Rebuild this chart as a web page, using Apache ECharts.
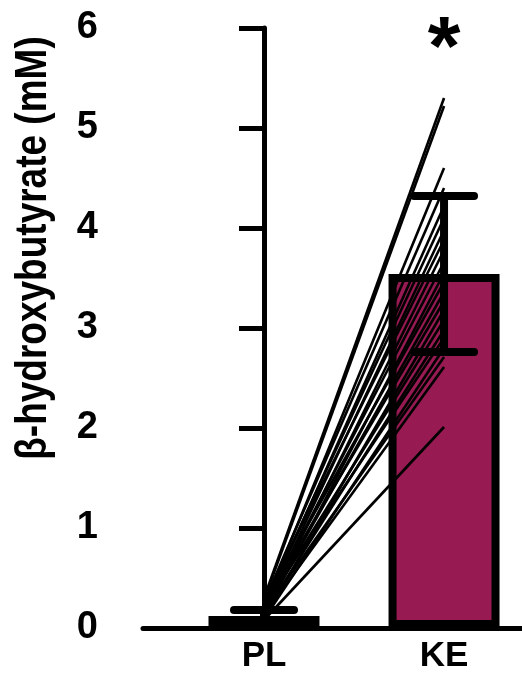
<!DOCTYPE html>
<html>
<head>
<meta charset="utf-8">
<script src="https://cdn.jsdelivr.net/npm/echarts@6/dist/echarts.min.js"></script>
<style>
  html, body { margin: 0; padding: 0; background: #ffffff; }
  #chart { width: 522px; height: 682px; }
</style>
</head>
<body>
<div id="chart"></div>
<script>
// Groups and summary values (mean, error) for each condition
const groups = ['PL', 'KE'];
const groupMeans = [0.12, 3.54];
const groupErrors = [0.06, 0.78];

// Paired individual measurements (same subject, same index)
const plValues = [0.30, 0.28, 0.22, 0.26, 0.20, 0.24, 0.18, 0.27, 0.15, 0.21, 0.12, 0.25, 0.17, 0.23, 0.10, 0.19, 0.14, 0.22, 0.09, 0.16, 0.13, 0.08];
const keValues = [5.30, 5.22, 4.60, 4.40, 4.22, 4.10, 3.98, 3.88, 3.78, 3.66, 3.55, 3.46, 3.36, 3.27, 3.18, 3.08, 2.98, 2.90, 2.80, 2.71, 2.61, 2.01];

// Value axis ticks
const yTicks = [0, 1, 2, 3, 4, 5, 6];
const significanceMark = '*';
const yTitle = 'β-hydroxybutyrate (mM)';

const FONT = '"Liberation Sans", Arial, Helvetica, sans-serif';
const chart = echarts.init(document.getElementById('chart'), null, { renderer: 'canvas' });

// one line per subject joining PL to KE
const pairSeries = plValues.map((pl, i) => ({
  type: 'line',
  data: [[0, pl], [1, keValues[i]]],
  symbol: 'none',
  silent: true,
  z: 3,
  lineStyle: { color: '#000000', width: 2.6 },
  animation: false
}));

const option = {
  animation: false,
  backgroundColor: '#ffffff',
  grid: { left: 143, right: 0, top: 28, bottom: 54, containLabel: false, outerBoundsMode: 'none' },
  xAxis: {
    type: 'value',
    min: -0.672,
    max: 1.433,
    axisLine: { show: true, onZero: false, lineStyle: { color: '#000000', width: 5 } },
    axisTick: { show: false },
    splitLine: { show: false },
    axisLabel: {
      customValues: [0, 1],
      formatter: v => groups[Math.round(v)] || '',
      color: '#000000',
      fontFamily: FONT,
      fontWeight: 'bold',
      fontSize: 35,
      margin: 11
    }
  },
  yAxis: {
    type: 'value',
    min: yTicks[0],
    max: yTicks[yTicks.length - 1],
    interval: 1,
    axisLine: { show: true, lineStyle: { color: '#000000', width: 5 } },
    axisTick: { show: true, length: 25, lineStyle: { color: '#000000', width: 5 } },
    splitLine: { show: false },
    axisLabel: {
      color: '#000000',
      fontFamily: FONT,
      fontWeight: 'bold',
      fontSize: 38,
      margin: 45
    }
  },
  series: [
    {
      type: 'bar',
      barWidth: 111,
      z: 2,
      silent: true,
      data: [
        { value: [0, groupMeans[0]], itemStyle: { color: '#ffffff', borderColor: '#000000', borderWidth: 8 } },
        { value: [1, groupMeans[1]], itemStyle: { color: '#971a53', borderColor: '#000000', borderWidth: 8 } }
      ]
    },
    ...pairSeries,
    {
      type: 'custom',
      z: 5,
      silent: true,
      data: groups.map((g, i) => [i, groupMeans[i], groupErrors[i]]),
      renderItem(params, api) {
        const x = api.value(0), m = api.value(1), e = api.value(2);
        const top = api.coord([x, m + e]);
        const bot = api.coord([x, m - e]);
        const half = 30;
        const st = { stroke: '#000000', lineWidth: 8, lineCap: 'round' };
        return {
          type: 'group',
          children: [
            { type: 'line', shape: { x1: top[0], y1: top[1], x2: bot[0], y2: bot[1] }, style: { stroke: '#000000', lineWidth: 8 } },
            { type: 'line', shape: { x1: top[0] - half, y1: top[1], x2: top[0] + half, y2: top[1] }, style: st },
            { type: 'line', shape: { x1: bot[0] - half, y1: bot[1], x2: bot[0] + half, y2: bot[1] }, style: st }
          ]
        };
      }
    }
  ]
};

chart.setOption(option);

// axis title and significance marker above the KE bar
const starPos = chart.convertToPixel({ xAxisIndex: 0, yAxisIndex: 0 }, [1, 5.76]);
chart.setOption({
  graphic: [
    {
      type: 'text',
      x: 34,
      y: 248,
      rotation: Math.PI / 2,
      scaleY: 1.22,
      style: {
        text: yTitle,
        fill: '#000000',
        font: 'bold 37px ' + FONT,
        align: 'center',
        verticalAlign: 'middle'
      }
    },
    {
      type: 'text',
      x: starPos[0],
      y: starPos[1],
      style: {
        text: significanceMark,
        fill: '#000000',
        font: 'bold 84px ' + FONT,
        align: 'center',
        verticalAlign: 'middle'
      }
    }
  ]
});
</script>
</body>
</html>
